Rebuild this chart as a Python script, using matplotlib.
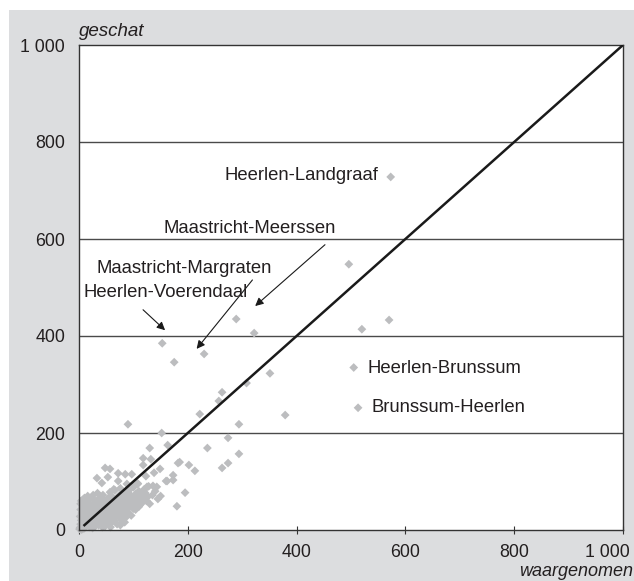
import matplotlib
matplotlib.use("Agg")
import matplotlib.pyplot as plt
import matplotlib.transforms as mtransforms
from matplotlib.patches import Rectangle

plt.rcParams['font.family'] = ['Liberation Sans', 'DejaVu Sans']

# waargenomen (x) en geschat (y) per relatie
obs_main = [573, 496, 289, 322, 520, 570, 505, 513, 153, 175, 230, 351, 308,
            263, 257, 222, 379, 90, 294, 152, 274, 130, 163, 236, 294, 118,
            132, 118, 182, 185, 202, 213, 263, 274, 149, 138, 173, 162, 173,
            195, 143, 136, 48, 57, 33, 72, 85, 97, 42, 53, 72, 88, 108, 123,
            160, 125, 180, 66, 103, 112]
est_main = [728, 548, 435, 406, 414, 433, 335, 252, 385, 346, 363, 323, 303,
            284, 266, 239, 237, 218, 218, 200, 190, 169, 175, 169, 157, 148,
            146, 134, 138, 140, 134, 122, 128, 138, 126, 118, 113, 101, 103,
            77, 89, 91, 128, 126, 107, 117, 115, 115, 97, 109, 101, 95, 95,
            111, 101, 89, 49, 82, 62, 52]

# kleine relaties rond de oorsprong
obs_small = [2, 3, 4, 2, 5, 3, 6, 8, 4, 10, 12, 9, 7, 11, 6, 14, 16, 13, 15,
             18, 20, 1, 5, 9, 12, 17, 19, 22, 24, 26, 28, 30, 25, 33, 35, 32,
             38, 40, 42, 45, 48, 36, 44, 50, 52, 55, 58, 60, 62, 65, 68, 70,
             72, 75, 78, 80, 82, 85, 88, 90, 92, 95, 98, 100, 104, 106, 110,
             112, 115, 118, 120, 122, 126, 128, 46, 54, 60, 66, 74, 78, 84,
             30, 38, 26, 20, 16, 10, 34, 44, 57, 64, 76, 92, 100, 108, 22, 27,
             31, 37, 41, 47, 53, 59, 63, 67, 71, 77, 81, 87, 93, 97, 102, 40,
             46, 50, 56, 61, 69, 74, 83, 89, 94, 18, 21, 29, 34, 39, 43, 49,
             54, 58, 64, 70, 76, 86, 96, 84, 8, 11, 14, 24, 6, 3, 7, 15, 28,
             36, 48, 66, 80, 104, 110, 116, 124, 135, 140, 130, 145, 150]
est_small = [5, 12, 20, 28, 35, 42, 50, 56, 60, 45, 38, 30, 22, 15, 8, 52,
             44, 28, 20, 12, 6, 2, 1, 3, 6, 30, 40, 50, 34, 22, 14, 8, 4, 18,
             30, 42, 48, 36, 24, 14, 8, 10, 40, 52, 44, 34, 24, 16, 30, 42,
             54, 46, 36, 28, 20, 40, 50, 58, 46, 36, 60, 68, 52, 44, 74, 66,
             80, 58, 70, 64, 84, 76, 68, 90, 60, 66, 70, 62, 72, 66, 76, 58,
             66, 72, 64, 70, 66, 76, 72, 78, 84, 86, 82, 88, 96, 28, 38, 48,
             56, 64, 50, 58, 48, 56, 46, 58, 50, 62, 70, 74, 62, 56, 20, 30,
             24, 42, 38, 32, 44, 34, 54, 48, 22, 36, 30, 24, 14, 6, 18, 12,
             6, 20, 12, 10, 26, 30, 16, 14, 24, 36, 46, 40, 54, 62, 58, 62,
             40, 38, 24, 28, 42, 48, 56, 60, 72, 80, 54, 64, 70]

ticks = [0, 200, 400, 600, 800, 1000]
tick_labels = ['0', '200', '400', '600', '800', '1 000']

# benoemde relaties: tekst, positie tekst, pijlpunt
names = ['Heerlen-Landgraaf', 'Maastricht-Meerssen', 'Maastricht-Margraten',
         'Heerlen-Voerendaal', 'Heerlen-Brunssum', 'Brunssum-Heerlen']
name_x = [550, 313, 33, 9, 531, 537]
name_y = [730, 621, 540, 489, 334, 252]
name_ha = ['right', 'center', 'left', 'left', 'left', 'left']
arrow_tail = [None, (456, 592), (322, 520), (114, 458), None, None]
arrow_head = [None, (320, 458), (213, 369), (162, 408), None, None]

fig = plt.figure(figsize=(6.34, 5.81), dpi=100, facecolor='white')
fig.patches.append(Rectangle((9 / 634, 0), 1 - 9 / 634, 571 / 581,
                             transform=fig.transFigure, facecolor='#dcdddf',
                             edgecolor='none', zorder=-10))
ax = fig.add_axes([79 / 634, 51 / 581, 544 / 634, 485 / 581])
ax.set_facecolor('white')
ax.set_zorder(1)

ax.set_xlim(0, 1000)
ax.set_ylim(0, 1000)

for y in ticks[1:-1]:
    ax.axhline(y, color='#4a4a4a', lw=1.0, zorder=1)

ax.scatter(obs_small + obs_main, est_small + est_main, marker='D', s=20,
           color='#bcbdbf', edgecolors='none', zorder=2, clip_on=False)

ax.plot([10, 1000], [10, 1000], color='#1a1a1a', lw=1.8, zorder=3)

for i, name in enumerate(names):
    ax.text(name_x[i], name_y[i], name, ha=name_ha[i], va='center',
            fontsize=13.3, color='#231f20', zorder=4)
    if arrow_tail[i] is not None:
        ax.annotate('', xy=arrow_head[i], xytext=arrow_tail[i],
                    arrowprops=dict(arrowstyle='-|>', color='#1a1a1a',
                                    lw=0.8, mutation_scale=12), zorder=4)

ax.set_xticks(ticks)
ax.set_xticklabels(tick_labels)
ax.set_yticks(ticks)
ax.set_yticklabels(tick_labels)
ax.tick_params(axis='x', direction='inout', length=6, width=0.8,
               colors='#333333', labelcolor='#231f20', labelsize=12.8, pad=7)
ax.tick_params(axis='y', length=0, labelcolor='#231f20', labelsize=12.8, pad=10)

# laatste x-label iets naar links, zodat het binnen de figuur valt
last = ax.get_xticklabels()[-1]
last.set_horizontalalignment('right')
last.set_transform(last.get_transform() +
                   mtransforms.ScaledTranslation(0.07, 0, fig.dpi_scale_trans))

for side in ['left', 'bottom', 'right', 'top']:
    ax.spines[side].set_color('#333333')
    ax.spines[side].set_linewidth(1.0)

fig.text(79 / 634, 1 - 31 / 581, 'geschat', style='italic', fontsize=13.5,
         color='#231f20', ha='left', va='center')
fig.text(633 / 634, 1 - 572 / 581, 'waargenomen', style='italic',
         fontsize=13, color='#231f20', ha='right', va='center')

fig.savefig('out.png', dpi=100, facecolor=fig.get_facecolor())
